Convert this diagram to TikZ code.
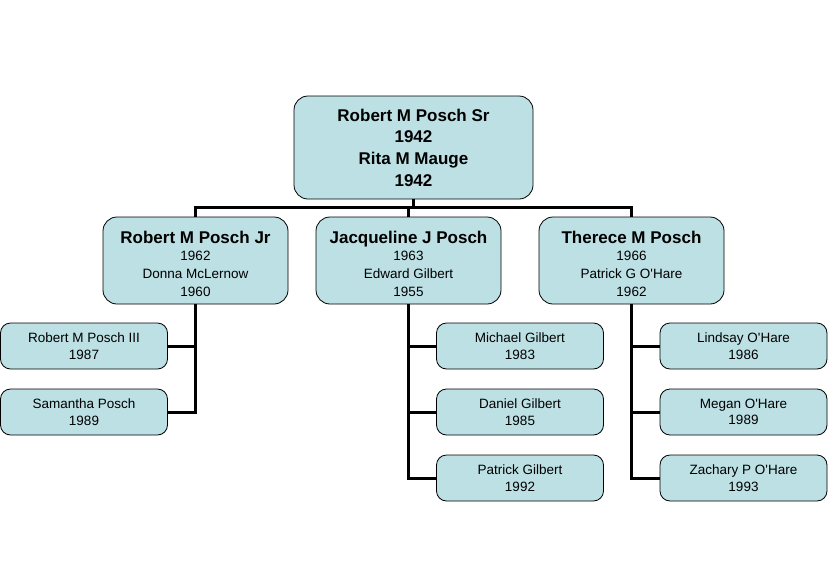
\documentclass[tikz,border=0pt]{standalone}
\usepackage{fontspec}
\setmainfont{Liberation Sans}
\definecolor{boxfill}{RGB}{188,224,228}
\newcommand{\apos}{\textquotesingle}
\newcommand{\headname}[1]{{\bfseries\fontsize{17}{19}\selectfont\rule{0pt}{18.5pt}#1}}
\begin{document}
\begin{tikzpicture}[x=1pt,y=-1pt,
  pbox/.style={draw=black,line width=0.8pt,fill=boxfill,rounded corners=14pt,align=center,inner sep=0pt},
  topbox/.style={pbox,minimum width=239pt,minimum height=103pt,font=\bfseries\fontsize{17}{21.7}\selectfont},
  midbox/.style={pbox,minimum width=185pt,minimum height=87pt,font=\fontsize{13.5}{17.6}\selectfont},
  kidbox/.style={pbox,rounded corners=10pt,minimum width=167pt,minimum height=46pt,font=\fontsize{13.5}{16.5}\selectfont},
  conn/.style={line width=3pt}]
\useasboundingbox (0,0) rectangle (828,576);
\fill[white] (0,0) rectangle (828,576);
\node[topbox] (top) at (413.5,147.5) {Robert M Posch Sr\\1942\\Rita M Mauge\\1942};
\node[midbox] (b1) at (195.5,260.5) {\headname{Robert M Posch Jr}\\1962\\Donna McLernow\\1960};
\node[midbox] (b2) at (408.5,260.5) {\headname{Jacqueline J Posch}\\1963\\Edward Gilbert\\1955};
\node[midbox] (b3) at (631.5,260.5) {\headname{Therece M Posch}\\1966\\Patrick G O\apos Hare\\1962};
\node[kidbox] (c11) at (84,346) {Robert M Posch III\\1987};
\node[kidbox] (c12) at (84,412) {Samantha Posch\\1989};
\node[kidbox] (c21) at (520,346) {Michael Gilbert\\1983};
\node[kidbox] (c22) at (520,412) {Daniel Gilbert\\1985};
\node[kidbox] (c23) at (520,478) {Patrick Gilbert\\1992};
\node[kidbox] (c31) at (743.5,346) {Lindsay O\apos Hare\\1986};
\node[kidbox] (c32) at (743.5,412) {Megan O\apos Hare\\1989};
\node[kidbox] (c33) at (743.5,478) {Zachary P O\apos Hare\\1993};
\coordinate (j) at (413.5,208);
\draw[conn] (top.south) -- (j);
\draw[conn] (b1.north) -- ++(0,-9) -| (b3.north);
\draw[conn] (b2.north) -- ++(0,-9);
\draw[conn] (b1.south) |- (c12.east);
\draw[conn] (c11.east) -| (b1.south);
\draw[conn] (b2.south) |- (c23.west);
\draw[conn] (c21.west) -| (b2.south);
\draw[conn] (c22.west) -| (b2.south);
\draw[conn] (b3.south) |- (c33.west);
\draw[conn] (c31.west) -| (b3.south);
\draw[conn] (c32.west) -| (b3.south);
\end{tikzpicture}
\end{document}
